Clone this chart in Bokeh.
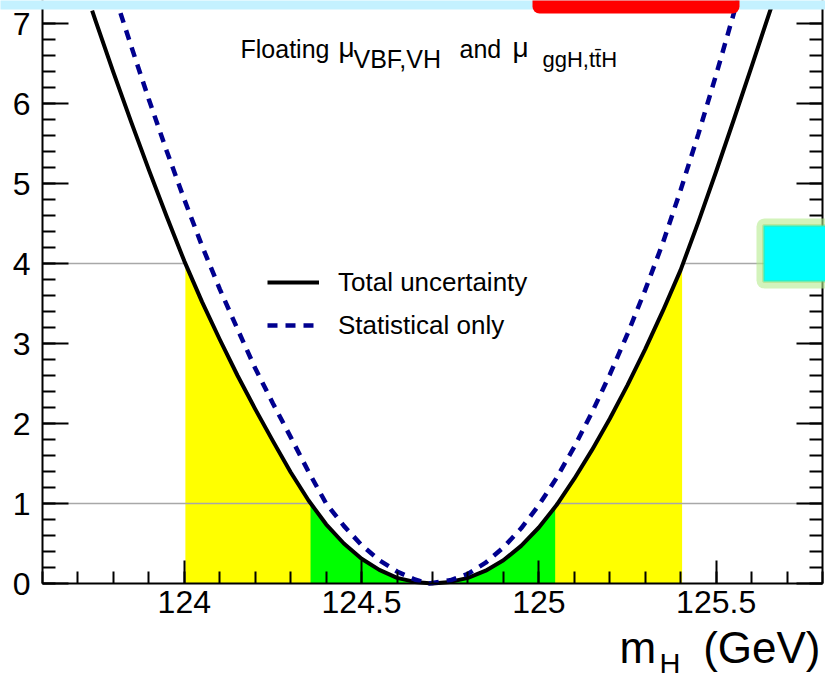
import numpy as np
from bokeh.plotting import figure
from bokeh.models import (Range1d, LinearAxis, SingleIntervalTicker, NumeralTickFormatter,
                          Label, Legend, LegendItem, BoxAnnotation)
from bokeh.embed import file_html
from bokeh.resources import INLINE

# ---------------- data ----------------
mh_total = [123.74, 123.75, 123.80, 123.85, 123.90, 123.95, 124.00, 124.05, 124.10, 124.15,
            124.20, 124.25, 124.30, 124.35, 124.40, 124.45, 124.50, 124.55, 124.60, 124.65,
            124.70, 124.75, 124.80, 124.85, 124.90, 124.95, 125.00, 125.05, 125.10, 125.15,
            125.20, 125.25, 125.30, 125.35, 125.40, 125.45, 125.50, 125.55, 125.60, 125.65,
            125.66]
dnll_total = [7.16, 7.03, 6.39, 5.77, 5.17, 4.59, 4.03, 3.52, 3.05, 2.60,
              2.18, 1.78, 1.39, 1.04, 0.74, 0.50, 0.31, 0.17, 0.07, 0.02,
              0.00, 0.02, 0.07, 0.16, 0.29, 0.47, 0.70, 0.98, 1.31, 1.67,
              2.06, 2.48, 2.93, 3.41, 3.92, 4.52, 5.15, 5.80, 6.46, 7.13,
              7.26]

mh_stat = [123.82, 123.85, 123.90, 123.95, 124.00, 124.05, 124.10, 124.15, 124.20, 124.25,
           124.30, 124.35, 124.40, 124.45, 124.50, 124.55, 124.60, 124.65, 124.69, 124.75,
           124.80, 124.85, 124.90, 124.95, 125.00, 125.05, 125.10, 125.15, 125.20, 125.25,
           125.30, 125.35, 125.40, 125.45, 125.50, 125.55, 125.56]
dnll_stat = [7.13, 6.72, 6.05, 5.41, 4.80, 4.22, 3.68, 3.18, 2.69, 2.25,
             1.83, 1.40, 1.00, 0.72, 0.48, 0.29, 0.15, 0.05, 0.00, 0.04,
             0.12, 0.26, 0.45, 0.69, 0.98, 1.32, 1.71, 2.14, 2.61, 3.12,
             3.67, 4.26, 4.92, 5.62, 6.36, 7.13, 7.29]

levels = [1.0, 4.0]
interval_lo = [124.356, 124.003]
interval_hi = [125.046, 125.404]
band_colors = ["#00ff00", "#ffff00"]

x_axis_min, x_axis_max = 123.6, 125.8
x_tick_step = 0.5
y_tick_step = 1

# ---------------- layout (pixel geometry of the frame) ----------------
W, H = 825, 673
AX_L, AX_R, AX_B = 42, 822, 583          # pixel positions of left/right/bottom axes
PX_PER_X = (AX_R - AX_L) / (x_axis_max - x_axis_min)
PX_PER_Y = 80.0
XA = x_axis_min - AX_L / PX_PER_X
XB = x_axis_max + (W - AX_R) / PX_PER_X
YA = -(H - AX_B) / PX_PER_Y
YB = AX_B / PX_PER_Y


def px(x):
    return XA + x / W * (XB - XA)


def py(y):
    return YB - y / H * (YB - YA)


p = figure(width=W, height=H, x_range=Range1d(XA, XB), y_range=Range1d(YA, YB),
           output_backend="svg", toolbar_location=None,
           min_border_left=0, min_border_right=0, min_border_top=0, min_border_bottom=0)
p.outline_line_color = None
p.grid.visible = False
p.background_fill_color = "white"
p.border_fill_color = "white"

FONT = "Liberation Sans"

# axes (fixed at the frame edges of the ROOT-style plot)
xa = p.xaxis[0]
xa.ticker = SingleIntervalTicker(interval=x_tick_step, num_minor_ticks=5)
xa.formatter = NumeralTickFormatter(format="0.[0]")
xa.fixed_location = 0
xa.bounds = (x_axis_min, x_axis_max)

ya = p.yaxis[0]
ya.ticker = SingleIntervalTicker(interval=y_tick_step, num_minor_ticks=5)
ya.fixed_location = x_axis_min
ya.bounds = (0, YB)

ra = LinearAxis(ticker=SingleIntervalTicker(interval=y_tick_step, num_minor_ticks=5),
                fixed_location=x_axis_max, bounds=(0, YB))
ra.major_label_overrides = {i: "" for i in range(0, 8)}
p.add_layout(ra, "right")

for ax, mj, mn in ((xa, 23, 12), (ya, 26, 13), (ra, 26, 13)):
    ax.axis_line_color = "black"
    ax.axis_line_width = 2
    ax.major_tick_line_color = "black"
    ax.minor_tick_line_color = "black"
    ax.major_tick_line_width = 2
    ax.minor_tick_line_width = 2
    ax.major_tick_in = mj
    ax.major_tick_out = 0
    ax.minor_tick_in = mn
    ax.minor_tick_out = 0
    ax.major_label_text_font = FONT
    ax.major_label_text_color = "black"

xa.major_label_text_font_size = "32px"
xa.major_label_standoff = 7
ya.major_label_text_font_size = "32px"
ya.major_label_standoff = 12
ra.major_label_text_font_size = "10px"
ra.major_label_standoff = 0

# ---------------- fills ----------------
mt = np.array(mh_total)
dt = np.array(dnll_total)
for lo, hi, col in sorted(zip(interval_lo, interval_hi, band_colors), key=lambda t: -(t[1] - t[0])):
    xs = np.concatenate([[lo], mt[(mt > lo) & (mt < hi)], [hi]])
    ys = np.interp(xs, mt, dt)
    p.varea(x=xs, y1=np.zeros(len(xs)), y2=ys, fill_color=col, fill_alpha=1.0)

# level lines outside the interval
for lev, lo, hi in zip(levels, interval_lo, interval_hi):
    p.segment(x0=[x_axis_min, hi], y0=[lev, lev], x1=[lo, x_axis_max], y1=[lev, lev],
              line_color="#a8a8a8", line_width=1.5)

r_tot = p.line(mh_total, dnll_total, line_color="black", line_width=4, line_join="round")
r_stat = p.line(mh_stat, dnll_stat, line_color="#00008f", line_width=4.5, line_dash="10 8")

legend = Legend(items=[LegendItem(label="Total uncertainty", renderers=[r_tot]),
                       LegendItem(label="Statistical only", renderers=[r_stat])],
                location=(267, H - 345), orientation="vertical",
                padding=0, margin=0, spacing=3, glyph_width=52, glyph_height=40,
                label_height=40, label_standoff=19, border_line_color=None,
                background_fill_alpha=0, label_text_font=FONT, label_text_font_size="26px",
                label_text_color="black", label_text_baseline="middle")
p.add_layout(legend)

# ---------------- texts ----------------
def lab(t, x, y, size, align="left"):
    # y is the wanted baseline in pixels; bokeh places the bottom of the line box there
    yb = y + 0.2 * size
    p.add_layout(Label(x=px(x), y=py(yb), text=t, text_font=FONT, text_font_size=f"{size}px",
                       text_align=align, text_baseline="bottom", text_color="black"))

lab("Floating", 240, 57, 25)
lab("μ", 338, 57, 28)
lab("VBF,VH", 353, 67, 25)
lab("and", 459, 57, 25)
lab("μ", 512, 57, 28)
lab("ggH,tt\u0304H", 542, 67, 22)

lab("m", 619, 663, 44)
lab("H", 659, 674, 29)
lab("(GeV)", 820, 663, 44, align="right")

# ---------------- screenshot overlays ----------------
p.add_layout(BoxAnnotation(left=XA - 1, right=XB + 1, bottom=py(9), top=YB + 1,
                           fill_color="#c4f1ff", fill_alpha=1, line_color=None, level="overlay"))
p.add_layout(BoxAnnotation(left=px(532), right=px(739), bottom=py(13), top=YB + 1,
                           fill_color="#ff0000", fill_alpha=1, line_color=None,
                           border_radius=(0, 0, 7, 7), level="overlay"))
p.add_layout(BoxAnnotation(left=px(756), right=XB + 1, bottom=py(288), top=py(218),
                           fill_color="#b6eb8e", fill_alpha=0.6, line_color=None,
                           border_radius=8, level="overlay"))
p.add_layout(BoxAnnotation(left=px(763), right=XB + 1, bottom=py(281), top=py(225),
                           fill_color="#00ffff", fill_alpha=1, line_color="#80cc55",
                           line_width=3, level="overlay"))

open("out.html", "w").write(file_html(p, INLINE))
